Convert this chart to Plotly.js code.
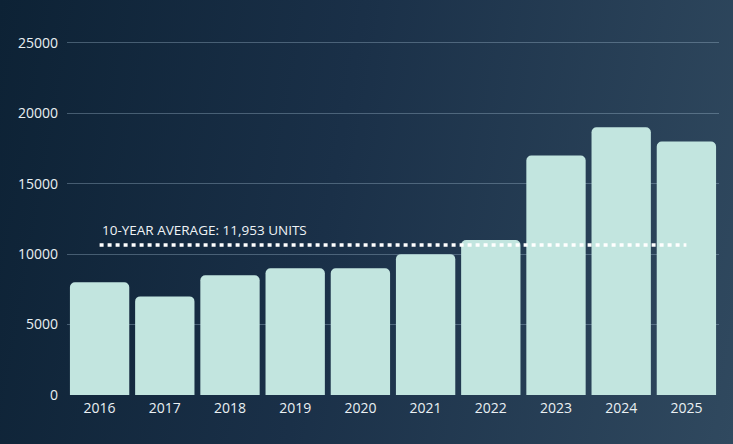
<!DOCTYPE html>
<html><head><meta charset="utf-8">
<script src="https://cdn.plot.ly/plotly-3.0.1.min.js"></script>
<style>
html,body{margin:0;padding:0;}
#chart{width:733px;height:444px;background:linear-gradient(100deg,#0d2235 0%,#1a3048 45%,#30495f 100%);}
</style></head>
<body><div id="chart"></div>
<script>
const years = ['2016','2017','2018','2019','2020','2021','2022','2023','2024','2025'];
const units = [8000, 7000, 8500, 9000, 9000, 10000, 11000, 17000, 19000, 18000];
const avgLineValue = 10650;
const avgLabel = '10-YEAR AVERAGE: 11,953 UNITS';
const yTicks = [0, 5000, 10000, 15000, 20000, 25000];

const font = '"Open Sans", sans-serif';
const traces = [
  {type:'bar', x:years, y:units, marker:{color:'#c2e5df', line:{width:0}}, hoverinfo:'skip'},
  {type:'scatter', mode:'lines', x:[years[0], years[years.length-1]], y:[avgLineValue, avgLineValue],
   line:{color:'#ffffff', width:3.5, dash:'4px,4px'}, hoverinfo:'skip'}
];
const layout = {
  width:733, height:444,
  paper_bgcolor:'rgba(0,0,0,0)', plot_bgcolor:'rgba(0,0,0,0)',
  margin:{l:67, r:14, t:40, b:49},
  showlegend:false, bargap:0.09, barcornerradius:5,
  font:{family:font, color:'#eaf0f3', size:14},
  xaxis:{type:'category', range:[-0.5, years.length-0.5], showgrid:false, zeroline:false, showline:false, ticks:'',
         ticklabelstandoff:3, tickfont:{size:14, color:'#eaf0f3'}},
  yaxis:{range:[0,25200], tickvals:yTicks, ticktext:yTicks.map(String), showgrid:true, gridcolor:'rgba(170,195,215,0.35)', gridwidth:1,
         zeroline:false, showline:false, ticks:'', ticklabelstandoff:8, tickfont:{size:14, color:'#eaf0f3'}},
  annotations:[{x:0, y:avgLineValue, xref:'x', yref:'y', xanchor:'left', yanchor:'bottom', xshift:0, yshift:4,
    text:avgLabel, showarrow:false, font:{family:font, size:13.5, color:'#eef3f6'}}]
};
Plotly.newPlot('chart', traces, layout, {displayModeBar:false, staticPlot:true});
</script></body></html>
